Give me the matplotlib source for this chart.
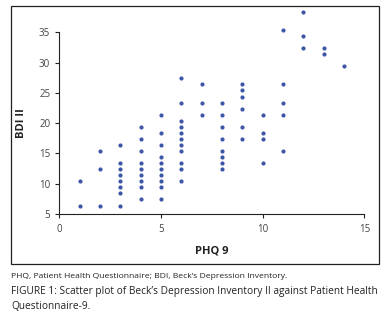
import matplotlib.pyplot as plt
from matplotlib.patches import Rectangle

# PHQ 9 scores (x) and BDI II scores (y)
phq9 = [1, 1,
        2, 2, 2,
        3, 3, 3, 3, 3, 3, 3, 3,
        4, 4, 4, 4, 4, 4, 4, 4, 4,
        5, 5, 5, 5, 5, 5, 5, 5, 5, 5,
        6, 6, 6, 6, 6, 6, 6, 6, 6, 6, 6,
        7, 7, 7,
        8, 8, 8, 8, 8, 8, 8, 8,
        9, 9, 9, 9, 9, 9,
        10, 10, 10, 10,
        11, 11, 11, 11, 11,
        12, 12, 12,
        13, 13,
        14]
bdi2 = [10.4, 6.4,
        15.4, 12.4, 6.4,
        16.4, 13.4, 12.4, 11.4, 10.4, 9.4, 8.4, 6.4,
        19.4, 17.4, 15.4, 13.4, 12.4, 11.4, 10.4, 9.4, 7.4,
        21.4, 18.4, 16.4, 14.4, 13.4, 12.4, 11.4, 10.4, 9.4, 7.4,
        27.4, 23.4, 20.4, 19.4, 18.4, 17.4, 16.4, 15.4, 13.4, 12.4, 10.4,
        26.4, 23.4, 21.4,
        23.4, 21.4, 19.4, 17.4, 15.4, 14.4, 13.4, 12.4,
        26.4, 25.4, 24.4, 22.4, 19.4, 17.4,
        21.4, 18.4, 17.4, 13.4,
        35.4, 26.4, 23.4, 21.4, 15.4,
        38.4, 34.4, 32.4,
        32.4, 31.4,
        29.4]

x_ticks = [0, 5, 10, 15]
y_ticks = [5, 10, 15, 20, 25, 30, 35]

note = "PHQ, Patient Health Questionnaire; BDI, Beck\u2019s Depression Inventory."
caption = ("FIGURE 1: Scatter plot of Beck\u2019s Depression Inventory II against Patient Health\n"
           "Questionnaire-9.")

plt.rcParams['font.family'] = ['Open Sans', 'DejaVu Sans']

fig = plt.figure(figsize=(3.87, 3.17), dpi=100)
ax = fig.add_axes([0.1532, 0.3249, 0.7881, 0.5732])

ax.scatter(phq9, bdi2, s=9, color="#3b57a6", linewidths=0, clip_on=False, zorder=3)

ax.set_xlim(0, 15)
ax.set_ylim(5, 35)
ax.set_xticks(x_ticks)
ax.set_yticks(y_ticks)
ax.tick_params(labelsize=7, labelcolor="#444444", color="#222222",
               length=3, width=0.8, pad=3.5)
ax.tick_params(axis="x", pad=4)

for side in ["top", "right"]:
    ax.spines[side].set_visible(False)
for side in ["left", "bottom"]:
    ax.spines[side].set_linewidth(0.8)
    ax.spines[side].set_color("#222222")

ax.set_xlabel("PHQ 9", fontsize=8, fontweight="bold", color="#222222", labelpad=8)
ax.set_ylabel("BDI II", fontsize=8, fontweight="bold", color="#222222", labelpad=9)

# border round the chart area
fig.patches.append(Rectangle((11 / 387, 1 - 264 / 317), (379 - 11) / 387, (264 - 5.7) / 317,
                             transform=fig.transFigure, fill=False,
                             edgecolor="#222222", linewidth=0.9))

fig.text(11 / 387, 1 - 276 / 317, note, fontsize=6.1, color="#222222", va="center")
fig.text(11 / 387, 1 - 299 / 317, caption, fontsize=7.3, color="#222222",
         va="center", linespacing=1.45)

fig.savefig("out.png", dpi=100)
